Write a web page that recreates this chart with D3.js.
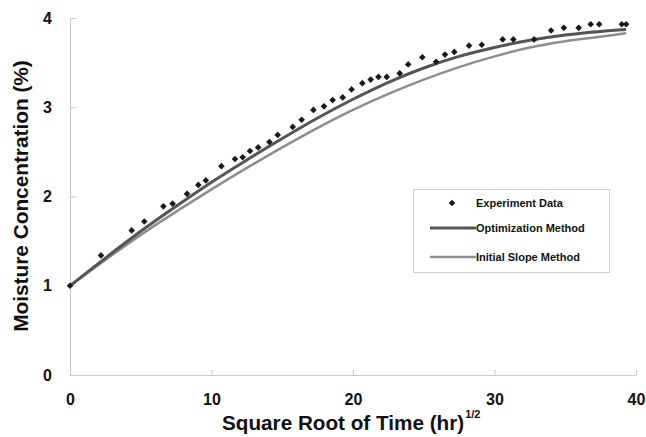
<!DOCTYPE html>
<html lang="en">
<head>
  <meta charset="UTF-8">
  <title>Moisture Concentration</title>
  <script src="https://d3js.org/d3.v7.min.js"></script>
  <style>
    body, html { margin: 0; padding: 0; background: #fff; }
    svg { display: block; font-family: "Liberation Sans", Arial, sans-serif; }
    .tick-label { font-size: 16px; font-weight: bold; fill: #111; }
    .axis-title { font-weight: bold; fill: #111; }
    .legend-text { font-size: 11px; font-weight: bold; fill: #111; }
  </style>
</head>
<body>
  <svg id="chart" width="646" height="437"></svg>

  <script>
    // experiment data (sqrt time, moisture %)
    const expX = [0, 2.19, 4.36, 5.25, 6.6, 7.25, 8.27, 9.07, 9.6, 10.7, 11.66, 12.2, 12.72, 13.3,
      14.09, 14.68, 15.74, 16.37, 17.2, 17.95, 18.56, 19.27, 19.9, 20.66, 21.25, 21.8, 22.38,
      23.3, 23.9, 24.9, 25.87, 26.5, 27.16, 28.2, 29.1, 30.58, 31.33, 32.8, 34.0, 34.9, 35.95,
      36.8, 37.4, 39.0, 39.3];
    const expY = [1.00, 1.34, 1.62, 1.72, 1.89, 1.92, 2.03, 2.13, 2.18, 2.34, 2.42, 2.44, 2.51, 2.55,
      2.61, 2.69, 2.78, 2.86, 2.97, 3.01, 3.08, 3.11, 3.20, 3.27, 3.31, 3.34, 3.34,
      3.38, 3.48, 3.56, 3.51, 3.59, 3.62, 3.69, 3.70, 3.76, 3.76, 3.76, 3.86, 3.89, 3.89,
      3.93, 3.93, 3.93, 3.93];

    // model curves
    const curveX = [0, 2.5, 5, 7.5, 10, 12.5, 15, 17.5, 20, 22.5, 25, 27.5, 30, 32.5, 35, 37.5, 39.3];
    const optY = [1.00, 1.31, 1.61, 1.89, 2.16, 2.41, 2.65, 2.88, 3.09, 3.28, 3.44, 3.57, 3.67, 3.75, 3.81, 3.85, 3.87];
    const slopeY = [1.00, 1.29, 1.57, 1.83, 2.08, 2.32, 2.55, 2.77, 2.97, 3.15, 3.31, 3.45, 3.57, 3.67, 3.74, 3.79, 3.83];

    const xTicks = [0, 10, 20, 30, 40];
    const yTicks = [0, 1, 2, 3, 4];

    const legendItems = ["Experiment Data", "Optimization Method", "Initial Slope Method"];

    const svg = d3.select("#chart");
    const m = { left: 70, right: 636, top: 18, bottom: 375 };

    const x = d3.scaleLinear().domain([0, 40]).range([m.left, m.right]);
    const y = d3.scaleLinear().domain([0, 4]).range([m.bottom, m.top]);

    // axes
    const xAxis = svg.append("g").attr("transform", `translate(0,${m.bottom})`)
      .call(d3.axisBottom(x).tickValues(xTicks).tickFormat(d3.format("d"))
        .tickSizeInner(-5).tickSizeOuter(0).tickPadding(19));
    const yAxis = svg.append("g").attr("transform", `translate(${m.left},0)`)
      .call(d3.axisLeft(y).tickValues(yTicks).tickFormat(d3.format("d"))
        .tickSizeInner(-6).tickSizeOuter(0).tickPadding(18));
    [xAxis, yAxis].forEach(a => {
      a.attr("font-family", null).attr("font-size", null);
      a.select(".domain").attr("stroke", "#c8c8c8");
      a.selectAll(".tick line").attr("stroke", "#c8c8c8");
      a.selectAll(".tick text").attr("class", "tick-label");
    });

    // lines
    const lineGen = d3.line().curve(d3.curveMonotoneX).x((d, i) => x(curveX[i])).y(d => y(d));
    svg.append("path").datum(slopeY).attr("d", lineGen)
      .attr("fill", "none").attr("stroke", "#8e8e8e").attr("stroke-width", 2.5);
    svg.append("path").datum(optY).attr("d", lineGen)
      .attr("fill", "none").attr("stroke", "#555").attr("stroke-width", 3);

    // points (square diamonds)
    const diamond = d3.symbol().type(d3.symbolSquare).size(22);
    svg.append("g").selectAll("path").data(expX).enter().append("path")
      .attr("d", diamond)
      .attr("transform", (d, i) => `translate(${x(d)},${y(expY[i])}) rotate(45)`)
      .attr("fill", "#1a1a1a");

    // axis titles
    const xt = svg.append("text").attr("class", "axis-title")
      .attr("x", 222).attr("y", 430)
      .attr("font-size", "20.7px");
    xt.append("tspan").text("Square Root of Time (hr)");
    xt.append("tspan").attr("font-size", "11px").attr("dy", -12).attr("dx", 1).text("1/2");
    svg.append("text").attr("class", "axis-title")
      .attr("font-size", "20.8px")
      .attr("transform", `translate(28,196) rotate(-90)`)
      .attr("text-anchor", "middle")
      .text("Moisture Concentration (%)");

    // legend
    const lg = svg.append("g");
    lg.append("rect").attr("x", 413.5).attr("y", 189.5).attr("width", 196).attr("height", 83)
      .attr("fill", "#fff").attr("stroke", "#cfcfcf");
    const rows = [203, 228, 257];
    lg.append("path").attr("d", diamond)
      .attr("transform", `translate(452,${rows[0]}) rotate(45)`).attr("fill", "#1a1a1a");
    lg.append("line").attr("x1", 430).attr("x2", 476).attr("y1", rows[1]).attr("y2", rows[1])
      .attr("stroke", "#555").attr("stroke-width", 3);
    lg.append("line").attr("x1", 430).attr("x2", 476).attr("y1", rows[2]).attr("y2", rows[2])
      .attr("stroke", "#8e8e8e").attr("stroke-width", 2.5);
    lg.selectAll("text.legend-text").data(legendItems).enter().append("text")
      .attr("class", "legend-text")
      .attr("x", 476).attr("y", (d, i) => rows[i] + 4)
      .text(d => d);
  </script>
</body>
</html>
